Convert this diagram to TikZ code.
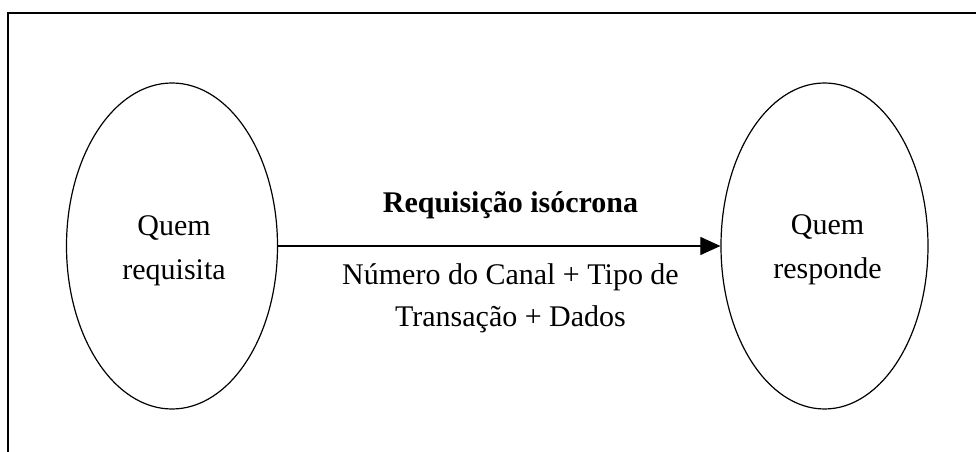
\documentclass[tikz,border=0pt]{standalone}
\usepackage{fontspec}
\setmainfont{Liberation Serif}
\usetikzlibrary{shapes.geometric,arrows.meta}
\begin{document}
\begin{tikzpicture}[x=0.75pt,y=-0.75pt,
  actor/.style={draw=black,line width=0.9pt,ellipse,inner sep=0pt},
  lbl/.style={inner sep=0pt,align=center,font=\fontsize{22.5pt}{31.5pt}\selectfont},
  inlbl/.style={inner sep=0pt,align=center,font=\fontsize{22.5pt}{33pt}\selectfont},
  frame/.style={draw=black,line width=1.3pt},
  conn/.style={draw=black,line width=0.8pt,-{Triangle[length=15pt,width=13.5pt]}}]
\useasboundingbox (0,0) rectangle (976,452);
\draw[frame] (8,452) -- (8,13) -- (977,13);
\node[actor,minimum width=158.25pt,minimum height=244.5pt] (req) at (172,246) {};
\node[actor,minimum width=155.25pt,minimum height=244.5pt] (resp) at (824.5,246) {};
\node[inlbl,anchor=base] (reqtxt) at (174,280) {Quem\\requisita};
\node[inlbl,anchor=base] (resptxt) at (827.5,279) {Quem\\responde};
\draw[conn] (req.east) -- (resp.west);
\node[lbl,anchor=base] (title) at (510.5,213) {\bfseries Requisição isócrona};
\node[lbl,anchor=base] (desc) at (510.5,327) {Número do Canal + Tipo de\\Transação + Dados};
\end{tikzpicture}
\end{document}
